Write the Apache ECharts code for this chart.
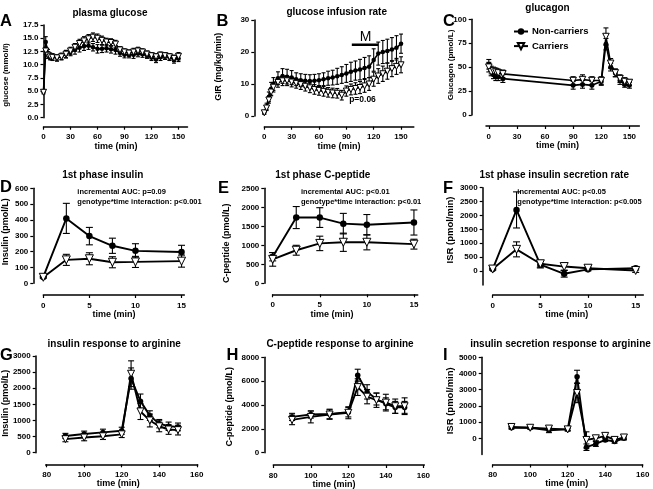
<!DOCTYPE html>
<html>
<head>
<meta charset="utf-8">
<script src="https://cdn.jsdelivr.net/npm/echarts@6/dist/echarts.min.js"></script>
<style>
html, body { margin: 0; padding: 0; background: #fff; }
#chart { width: 653px; height: 489px; }
</style>
</head>
<body>
<div id="chart"></div>
<script>
// ---- data ----
var clampTime = [0,2.5,5,7.5,10,15,20,25,30,35,40,45,50,55,60,65,70,75,80,85,90,95,100,105,110,115,120,125,130,135,140,145,150];
var glucoseNon = [5.0,14.3,12.2,11.6,11.5,11.3,11.6,12.0,12.4,12.8,13.2,13.5,13.6,13.3,13.0,13.0,13.1,12.9,12.8,12.2,11.9,11.9,11.9,12.1,12.0,11.8,11.4,11.0,11.4,11.6,11.4,11.0,11.2];
var glucoseNonSem = [0.3,1.0,0.7,0.6,0.6,0.6,0.6,0.7,0.7,0.8,0.8,0.8,0.7,0.7,0.8,0.7,0.7,0.7,0.8,0.6,0.6,0.6,0.7,0.6,0.6,0.6,0.6,0.6,0.6,0.6,0.6,0.7,0.6];
var glucoseCar = [4.8,12.6,11.8,11.5,11.4,11.3,11.5,12.0,12.6,13.3,14.0,14.5,14.9,15.2,15.0,14.6,14.3,14.2,13.9,12.8,12.4,12.2,12.4,12.6,12.4,12.0,11.7,11.5,11.8,11.7,11.5,11.2,11.6];
var glucoseCarSem = [0.3,0.7,0.6,0.6,0.6,0.6,0.6,0.7,0.7,0.7,0.8,0.8,0.8,0.8,0.8,0.8,0.7,0.7,0.7,0.6,0.6,0.6,0.7,0.7,0.6,0.6,0.6,0.6,0.6,0.6,0.6,0.6,0.7];

var girNon = [1.2,3.0,6.0,8.5,10.0,11.8,12.5,12.3,12.0,11.5,11.2,11.0,10.9,11.0,11.2,11.5,11.8,12.0,12.4,12.8,13.3,13.8,14.2,14.5,15.0,15.4,17.5,19.5,20.0,20.3,20.8,21.3,22.6];
var girNonSem = [0.5,1.0,1.5,2.0,2.0,2.0,2.3,2.3,2.2,2.0,2.0,2.0,2.0,2.0,2.0,2.0,2.2,2.3,2.5,2.6,2.8,3.0,3.0,3.2,3.3,3.4,3.5,3.6,3.6,3.7,3.7,3.8,3.0];
var girCar = [1.0,2.5,5.0,7.5,9.0,10.5,11.0,11.0,10.6,10.2,9.8,9.3,8.8,8.3,8.0,7.7,7.4,7.2,7.1,6.5,7.8,8.3,8.6,8.9,9.4,10.0,11.5,12.5,13.2,14.0,14.8,15.5,16.0];
var girCarSem = [0.5,0.8,1.0,1.2,1.5,1.5,1.5,1.5,1.5,1.5,1.5,1.5,1.5,1.5,1.5,1.5,1.5,1.5,1.5,1.5,1.6,1.7,1.8,1.9,2.0,2.0,2.2,2.3,2.4,2.5,2.5,2.5,2.5];
var mBarTime = [96, 125];
var mBarLevel = 22.3;

var glucagonTime = [0,2.5,5,7.5,10,15,90,100,110,120,125,130,135,140,145,150];
var glucagonNon = [53,47,42,40,40,38,31,32,31,35,74,50,44,36,32,31];
var glucagonNonSem = [5,4,4,4,4,4,4,4,4,4,6,4,4,4,3,3];
var glucagonCar = [50,45,46,45,44,43,36,37,36,36,82,54,44,38,35,34];
var glucagonCarSem = [5,4,4,4,4,4,4,5,4,4,9,5,4,4,4,3];

var phaseTime = [0,2.5,5,7.5,10,15];
var insulinNon = [40,410,298,237,205,198];
var insulinNonSem = [5,95,55,48,45,42];
var insulinCar = [38,148,155,133,135,140];
var insulinCarSem = [5,35,38,35,35,38];
var cpepNon = [700,1730,1730,1570,1540,1600];
var cpepNonSem = [110,290,260,270,270,330];
var cpepCar = [630,870,1050,1080,1080,1030];
var cpepCarSem = [180,130,190,240,200,130];
var isrNon = [70,2200,230,-100,60,100];
var isrNonSem = [30,650,120,120,50,60];
var isrCar = [70,780,260,160,100,20];
var isrCarSem = [30,270,120,130,40,70];

var argTime = [90,100,110,120,125,130,135,140,145,150];
var argInsNon = [520,580,630,680,2300,1600,1150,900,820,800];
var argInsNonSem = [80,90,100,110,330,220,150,130,130,120];
var argInsCar = [420,470,510,570,2450,1280,1000,820,720,700];
var argInsCarSem = [80,100,100,100,400,250,200,170,150,150];
var argCpNon = [3000,3200,3250,3400,6500,5100,4500,4100,3800,3800];
var argCpNonSem = [300,300,400,400,500,600,500,500,500,500];
var argCpCar = [2750,3000,3200,3350,5500,4700,4400,4200,3900,3900];
var argCpCarSem = [400,500,400,500,700,600,600,700,600,700];
var argIsrNon = [650,650,500,550,3800,-550,-350,-100,-200,0];
var argIsrNonSem = [80,80,150,100,400,200,150,100,100,100];
var argIsrCar = [700,650,600,550,2800,-100,0,150,-100,50];
var argIsrCarSem = [60,60,100,80,600,500,150,100,100,100];

// tick labels
var clampTicks = [0,30,60,90,120,150];
var phaseTicks = [0,5,10,15];
var argTicks = [80,100,120,140,160];
var glucoseTicks = [0,2.5,5,7.5,10,12.5,15,17.5];
var girTicks = [0,10,20,30];
var glucagonTicks = [0,25,50,75,100];
var insulinTicks = [0,100,200,300,400,500,600];
var cpepTicks = [0,500,1000,1500,2000,2500];
var isrTicks = [0,500,1000,1500,2000,2500,3000];
var argInsTicks = [0,500,1000,1500,2000,2500,3000];
var argCpTicks = [0,2000,4000,6000,8000];
var argIsrTicks = [0,1000,2000,3000,4000,5000];

// ---- panel layout ----
var FONT = '"Liberation Sans", Arial, sans-serif';
var panels = [
  {x: clampTime, non: glucoseNon, nonSem: glucoseNonSem, car: glucoseCar, carSem: glucoseCarSem,
   left: 43.5, top: 25, width: 144, height: 92.7, xmin: 0, xmax: 160, ymin: 0, ymax: 17.5,
   xt: clampTicks, yt: glucoseTicks, xOff: 9, yOff: 0, dec: 1, sym: 4.5, cap: 2, lw: 1.6},
  {x: clampTime, non: girNon, nonSem: girNonSem, car: girCar, carSem: girCarSem,
   left: 264.3, top: 20, width: 149.5, height: 96, xmin: 0, xmax: 164, ymin: 0, ymax: 30,
   xt: clampTicks, yt: girTicks, xOff: 10.7, yOff: 10, dec: 0, sym: 4.5, cap: 2, lw: 1.6},
  {x: glucagonTime, non: glucagonNon, nonSem: glucagonNonSem, car: glucagonCar, carSem: glucagonCarSem,
   left: 486, top: 19.3, width: 153.4, height: 95.7, xmin: -3, xmax: 160.7, ymin: 0, ymax: 100,
   xt: clampTicks, yt: glucagonTicks, xOff: 11, yOff: 14.3, dec: 0, sym: 5, cap: 2.5, lw: 1.6},
  {x: phaseTime, non: insulinNon, nonSem: insulinNonSem, car: insulinCar, carSem: insulinCarSem,
   left: 43.3, top: 188.3, width: 141, height: 95, xmin: 0, xmax: 15.3, ymin: 0, ymax: 600,
   xt: phaseTicks, yt: insulinTicks, xOff: 11.7, yOff: 10, dec: 0, sym: 6.5, cap: 3.5, lw: 1.9},
  {x: phaseTime, non: cpepNon, nonSem: cpepNonSem, car: cpepCar, carSem: cpepCarSem,
   left: 272.7, top: 188.3, width: 145, height: 95, xmin: 0, xmax: 15.4, ymin: 0, ymax: 2500,
   xt: phaseTicks, yt: cpepTicks, xOff: 11, yOff: 8.4, dec: 0, sym: 6.5, cap: 3.5, lw: 1.9},
  {x: phaseTime, non: isrNon, nonSem: isrNonSem, car: isrCar, carSem: isrCarSem,
   left: 492.7, top: 187.7, width: 150.6, height: 97.2, xmin: 0, xmax: 15.8, ymin: -500, ymax: 3000,
   xt: phaseTicks, yt: isrTicks, xOff: 10, yOff: 10, dec: 0, sym: 6.5, cap: 3.5, lw: 1.9},
  {x: argTime, non: argInsNon, nonSem: argInsNonSem, car: argInsCar, carSem: argInsCarSem,
   left: 45.7, top: 356, width: 152, height: 96.7, xmin: 79.5, xmax: 160.5, ymin: 0, ymax: 3000,
   xt: argTicks, yt: argInsTicks, xOff: 11.6, yOff: 10, dec: 0, sym: 5.5, cap: 3, lw: 1.9},
  {x: argTime, non: argCpNon, nonSem: argCpNonSem, car: argCpCar, carSem: argCpCarSem,
   left: 273.3, top: 357.3, width: 151, height: 95.4, xmin: 80, xmax: 160.5, ymin: 0, ymax: 8000,
   xt: argTicks, yt: argCpTicks, xOff: 12.3, yOff: 9, dec: 0, sym: 5.5, cap: 3, lw: 1.9},
  {x: argTime, non: argIsrNon, nonSem: argIsrNonSem, car: argIsrCar, carSem: argIsrCarSem,
   left: 492.7, top: 357.3, width: 150, height: 97.2, xmin: 80, xmax: 160, ymin: -1000, ymax: 5000,
   xt: argTicks, yt: argIsrTicks, xOff: 10, yOff: 11, dec: 0, sym: 5.5, cap: 3, lw: 1.9}
];

function pairs(xs, ys) {
  return xs.map(function (x, i) { return [x, ys[i]]; });
}

function errorBars(gi, xs, ys, sem, cap) {
  return {
    type: 'custom', xAxisIndex: gi, yAxisIndex: gi, z: 1, silent: true,
    data: xs.map(function (x, i) { return [x, ys[i] - sem[i], ys[i] + sem[i]]; }),
    encode: { x: 0, y: [1, 2] },
    renderItem: function (params, api) {
      var lo = api.coord([api.value(0), api.value(1)]);
      var hi = api.coord([api.value(0), api.value(2)]);
      var st = { stroke: '#000', lineWidth: 1.1 };
      return {
        type: 'group', children: [
          { type: 'line', shape: { x1: hi[0], y1: hi[1], x2: lo[0], y2: lo[1] }, style: st },
          { type: 'line', shape: { x1: hi[0] - cap, y1: hi[1], x2: hi[0] + cap, y2: hi[1] }, style: st },
          { type: 'line', shape: { x1: lo[0] - cap, y1: lo[1], x2: lo[0] + cap, y2: lo[1] }, style: st }
        ]
      };
    }
  };
}

var grids = [], xAxes = [], yAxes = [], series = [];
var axisLineStyle = { color: '#000', width: 1.5 };
var labelStyle = { color: '#000', fontSize: 8, fontWeight: 'bold', fontFamily: FONT };

panels.forEach(function (p, gi) {
  grids.push({ left: p.left, top: p.top, width: p.width, height: p.height, containLabel: false });
  xAxes.push({
    type: 'value', gridIndex: gi, min: p.xmin, max: p.xmax, offset: p.xOff,
    axisLine: { show: true, onZero: false, lineStyle: axisLineStyle },
    axisTick: { show: true, length: 3, lineStyle: { color: '#000', width: 1.2 }, customValues: p.xt },
    axisLabel: Object.assign({ margin: 6.5, customValues: p.xt }, labelStyle),
    splitLine: { show: false }
  });
  yAxes.push({
    type: 'value', gridIndex: gi, min: p.ymin, max: p.ymax, offset: p.yOff,
    axisLine: { show: true, onZero: false, lineStyle: axisLineStyle },
    axisTick: { show: true, length: 3, lineStyle: { color: '#000', width: 1.2 }, customValues: p.yt },
    axisLabel: Object.assign({ margin: 5, customValues: p.yt,
      formatter: function (v) { return v.toFixed(p.dec); } }, labelStyle),
    splitLine: { show: false }
  });
  series.push(errorBars(gi, p.x, p.non, p.nonSem, p.cap));
  series.push(errorBars(gi, p.x, p.car, p.carSem, p.cap));
  series.push({
    name: 'Non-carriers', type: 'line', xAxisIndex: gi, yAxisIndex: gi, z: 3,
    data: pairs(p.x, p.non), symbol: 'circle', symbolSize: p.sym,
    itemStyle: { color: '#000' }, lineStyle: { color: '#000', width: p.lw }
  });
  series.push({
    name: 'Carriers', type: 'line', xAxisIndex: gi, yAxisIndex: gi, z: 4,
    data: pairs(p.x, p.car), symbol: 'triangle', symbolRotate: 180, symbolSize: p.sym + 1.5,
    itemStyle: { color: '#fff', borderColor: '#000', borderWidth: 1 },
    lineStyle: { color: '#000', width: p.lw }
  });
});

// M bar in panel B
series.push({
  type: 'line', xAxisIndex: 1, yAxisIndex: 1, z: 5, symbol: 'none', silent: true,
  data: [[mBarTime[0], mBarLevel], [mBarTime[1], mBarLevel]],
  lineStyle: { color: '#000', width: 2.5 }
});

// ---- text ----
var texts = [];
function txt(s, x, y, size, opts) {
  opts = opts || {};
  texts.push({
    type: 'text', x: x, y: y, rotation: opts.rot || 0, z: 10,
    style: { text: s, fill: '#000', font: (opts.weight || 'bold') + ' ' + size + 'px ' + FONT,
      align: opts.align || 'center', verticalAlign: opts.va || 'middle' }
  });
}
var letters = [['A', 0, 13], ['B', 216.5, 13], ['C', 443, 13.3], ['D', 0, 179.3], ['E', 218, 180],
  ['F', 443, 180], ['G', 0, 346.7], ['H', 226.5, 346.7], ['I', 443, 346.7]];
letters.forEach(function (l) { txt(l[0], l[1], l[2], 16.5, { align: 'left', va: 'alphabetic' }); });

var titles = [['plasma glucose', 110, 13.3], ['glucose infusion rate', 336.7, 12.7], ['glucagon', 547.5, 8.3],
  ['1st phase insulin', 102.7, 175], ['1st phase C-peptide', 322.8, 175], ['1st phase insulin secretion rate', 554.2, 175],
  ['insulin response to arginine', 114.2, 344], ['C-peptide response to arginine', 340, 344],
  ['insulin secretion response to arginine', 560.5, 344]];
titles.forEach(function (t) { txt(t[0], t[1], t[2], 10); });

var yNames = [['glucose (mmol/l)', 6, 75, 8], ['GIR (mg/kg/min)', 219, 66.7, 8.8], ['Glucagon (pmol/L)', 450.7, 65, 8],
  ['Insulin (pmol/L)', 5.7, 231.7, 9], ['C-peptide (pmol/L)', 226.7, 243.3, 9], ['ISR (pmol/min)', 450.7, 230, 9.5],
  ['Insulin (pmol/L)', 5.7, 403.3, 9], ['C-peptide (pmol/L)', 230, 406.7, 9], ['ISR (pmol/min)', 450, 400.8, 9.5]];
yNames.forEach(function (t) { txt(t[0], t[1], t[2], t[3], { rot: Math.PI / 2 }); });

var xNames = [[116, 146.7], [339, 146.7], [557.5, 145.7], [114, 314.5], [332, 315], [566.7, 315],
  [118.3, 484], [334, 484.3], [566.7, 484]];
xNames.forEach(function (t) { txt('time (min)', t[0], t[1], 9); });

txt('M', 365.7, 36.7, 14, { weight: 'normal' });
txt('p=0.06', 362.5, 99.3, 8.5);
txt('incremental AUC: p=0.09', 77.3, 191.7, 7.5, { align: 'left' });
txt('genotype*time interaction: p<0.001', 77.3, 201.7, 7.5, { align: 'left' });
txt('incremental AUC: p<0.01', 301, 191.7, 7.5, { align: 'left' });
txt('genotype*time interaction: p<0.01', 301, 201.7, 7.5, { align: 'left' });
txt('incremental AUC: p<0.05', 517.3, 192.3, 7.5, { align: 'left' });
txt('genotype*time interaction: p<0.005', 517.3, 201.7, 7.5, { align: 'left' });

var chart = echarts.init(document.getElementById('chart'));
chart.setOption({
  animation: false,
  backgroundColor: '#fff',
  grid: grids,
  xAxis: xAxes,
  yAxis: yAxes,
  legend: {
    data: ['Non-carriers', 'Carriers'], orient: 'vertical', left: 508, top: 21.5,
    itemWidth: 14, itemHeight: 8, itemGap: 4.6, selectedMode: false,
    textStyle: { color: '#000', fontSize: 9.5, fontWeight: 'bold', fontFamily: FONT, padding: [0, 0, 0, -1] }
  },
  series: series,
  graphic: { elements: texts }
});
</script>
</body>
</html>
